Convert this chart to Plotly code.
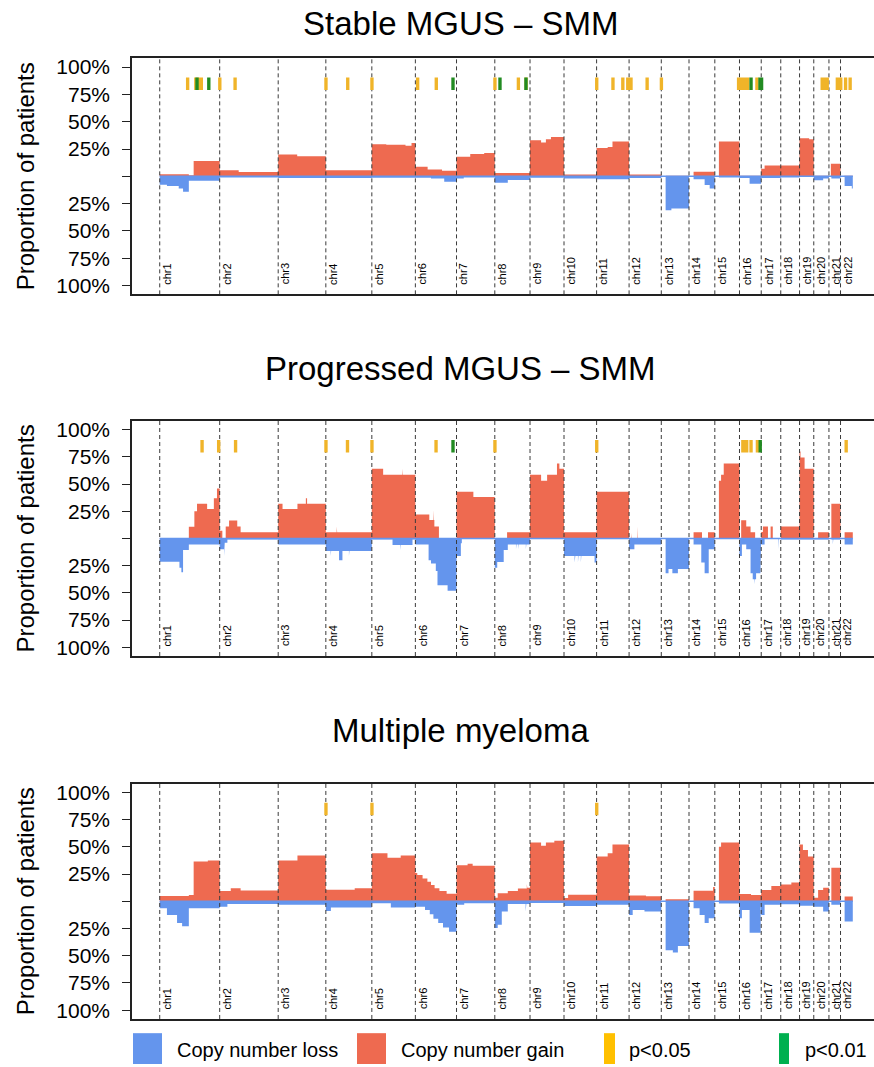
import plotly.graph_objects as go

# ---------------- data ----------------
CHROM_NAMES = ['chr1', 'chr2', 'chr3', 'chr4', 'chr5', 'chr6', 'chr7', 'chr8', 'chr9', 'chr10', 'chr11',
               'chr12', 'chr13', 'chr14', 'chr15', 'chr16', 'chr17', 'chr18', 'chr19', 'chr20', 'chr21', 'chr22']
CHROM_LEN_MB = [249.25, 243.20, 198.02, 191.15, 180.92, 171.12, 159.14, 146.36, 141.21, 135.53, 135.01,
                133.85, 115.17, 107.35, 102.53, 90.35, 81.20, 78.08, 59.13, 63.03, 48.13, 51.30]

PANEL_TITLES = ['Stable MGUS \u2013 SMM', 'Progressed MGUS \u2013 SMM', 'Multiple myeloma']
Y_TICK_VALS = [-1, -0.75, -0.5, -0.25, 0, 0.25, 0.5, 0.75, 1]
Y_TICK_TEXT = ['100%', '75%', '50%', '25%', '', '25%', '50%', '75%', '100%']
Y_TITLE = 'Proportion of patients'
LEGEND_LABELS = ['Copy number loss', 'Copy number gain', 'p<0.05', 'p<0.01']

# segments: (chromosome, start Mb, end Mb, proportion of patients)
stable_gain = [
    (1, 0, 121, 0.02), (1, 121, 141, 0.01), (1, 141, 249.25, 0.14),
    (2, 0, 79, 0.055), (2, 79, 243.2, 0.04),
    (3, 0, 79, 0.20), (3, 79, 198, 0.185),
    (4, 0, 191, 0.055),
    (5, 0, 60, 0.295), (5, 60, 140, 0.29), (5, 140, 165, 0.28), (5, 165, 180.9, 0.305),
    (6, 0, 51, 0.088), (6, 51, 111, 0.064), (6, 111, 171, 0.052),
    (7, 0, 57, 0.18), (7, 57, 115, 0.205), (7, 115, 159, 0.215),
    (8, 0, 146, 0.03),
    (9, 0, 46, 0.33), (9, 46, 66, 0.31), (9, 66, 87, 0.34), (9, 87, 141, 0.36),
    (10, 0, 135.5, 0.018),
    (11, 0, 46, 0.26), (11, 46, 66, 0.27), (11, 66, 135, 0.32),
    (12, 0, 133.8, 0.018),
    (13, 19, 115, 0.006),
    (14, 19, 107, 0.043),
    (15, 17, 102.5, 0.32),
    (16, 0, 90, 0.006),
    (17, 0, 14, 0.07), (17, 14, 81, 0.10),
    (18, 0, 78, 0.10),
    (19, 0, 40, 0.35), (19, 40, 59, 0.34),
    (20, 0, 63, 0.006),
    (21, 8, 48, 0.115),
    (22, 16, 51, 0.006),
]
stable_loss = [
    (1, 0, 30, 0.076), (1, 30, 79, 0.088), (1, 79, 97, 0.11), (1, 97, 121, 0.14), (1, 121, 249.25, 0.04),
    (2, 0, 243.2, 0.01),
    (3, 0, 198, 0.015),
    (4, 0, 191, 0.015),
    (5, 0, 180.9, 0.012),
    (6, 0, 65, 0.012), (6, 65, 120, 0.02), (6, 120, 171, 0.05),
    (7, 0, 30, 0.02), (7, 30, 159, 0.01),
    (8, 0, 54, 0.058), (8, 54, 146, 0.033),
    (9, 0, 141, 0.012),
    (10, 0, 135.5, 0.02),
    (11, 0, 135, 0.027),
    (12, 0, 133.8, 0.015),
    (13, 18, 42, 0.31), (13, 42, 115, 0.295),
    (14, 19, 65, 0.027), (14, 65, 86, 0.08), (14, 86, 107, 0.11),
    (15, 17, 102.5, 0.01),
    (16, 0, 42, 0.015), (16, 42, 90, 0.067),
    (17, 0, 81, 0.015),
    (18, 0, 78, 0.01),
    (19, 0, 59, 0.006),
    (20, 0, 39, 0.035), (20, 39, 63, 0.02),
    (21, 10, 48, 0.02),
    (22, 17, 47, 0.088), (22, 47, 51, 0.11),
]
progressed_gain = [
    (1, 0, 121, 0.005), (1, 121, 144, 0.107), (1, 144, 155, 0.25), (1, 155, 197, 0.32), (1, 197, 225, 0.27),
    (1, 225, 238, 0.37), (1, 238, 249.25, 0.46),
    (2, 0, 11, 0.07), (2, 25, 39, 0.11), (2, 39, 73, 0.165), (2, 73, 87, 0.11), (2, 87, 243.2, 0.058),
    (3, 0, 18, 0.32), (3, 18, 80, 0.27), (3, 80, 115, 0.32), (3, 115, 120, 0.37), (3, 120, 198, 0.32),
    (4, 0, 45, 0.058), (4, 45, 47, 0.11), (4, 47, 191, 0.058),
    (5, 0, 47, 0.64), (5, 47, 126, 0.585), (5, 126, 128, 0.64), (5, 128, 180.9, 0.585),
    (6, 0, 58, 0.22), (6, 58, 74, 0.17), (6, 74, 76, 0.26), (6, 76, 79, 0.17), (6, 79, 98, 0.11),
    (7, 0, 70, 0.43), (7, 70, 159, 0.38),
    (8, 51, 146, 0.058),
    (9, 0, 46, 0.585), (9, 46, 71, 0.53), (9, 71, 112, 0.585), (9, 112, 122, 0.69), (9, 122, 141, 0.64),
    (10, 0, 135.5, 0.058),
    (11, 0, 135, 0.43),
    (12, 8, 10, 0.05), (12, 35, 37, 0.11),
    (14, 19, 54, 0.058), (14, 79, 107, 0.058),
    (15, 17, 26, 0.53), (15, 26, 37, 0.585), (15, 37, 102.5, 0.69),
    (16, 7, 28, 0.167), (16, 28, 46, 0.11), (16, 46, 65, 0.058),
    (17, 0, 7, 0.06), (17, 7, 28, 0.11), (17, 39, 48, 0.11),
    (18, 0, 78, 0.11),
    (19, 0, 4, 0.80), (19, 4, 21, 0.745), (19, 21, 59, 0.64),
    (20, 18, 63, 0.058),
    (21, 10, 48, 0.32),
    (22, 17, 51, 0.058),
]
progressed_loss = [
    (1, 0, 82, 0.213), (1, 82, 90, 0.27), (1, 90, 97, 0.31), (1, 97, 121, 0.107), (1, 121, 249.25, 0.055),
    (2, 0, 18, 0.10), (2, 18, 21, 0.16), (2, 21, 32, 0.04), (2, 32, 243.2, 0.01),
    (3, 0, 198, 0.055),
    (4, 0, 20, 0.115), (4, 20, 22, 0.16), (4, 22, 55, 0.115), (4, 55, 69, 0.2), (4, 69, 96, 0.115),
    (4, 96, 98, 0.16), (4, 98, 191, 0.115),
    (5, 0, 86, 0.01), (5, 86, 119, 0.06), (5, 119, 121, 0.107), (5, 121, 169, 0.06), (5, 169, 180.9, 0.01),
    (6, 0, 55, 0.055), (6, 55, 65, 0.2), (6, 65, 85, 0.23), (6, 85, 92, 0.3), (6, 92, 134, 0.43), (6, 134, 171, 0.48),
    (7, 0, 18, 0.16), (7, 18, 22, 0.045), (7, 22, 159, 0.004),
    (8, 0, 10, 0.27), (8, 10, 37, 0.216), (8, 37, 54, 0.107), (8, 54, 88, 0.055), (8, 88, 90, 0.1),
    (8, 90, 97, 0.055), (8, 97, 99, 0.1), (8, 99, 129, 0.055), (8, 129, 131, 0.1), (8, 131, 146, 0.055),
    (9, 0, 141, 0.004),
    (10, 0, 44, 0.16), (10, 44, 47, 0.22), (10, 47, 58, 0.16), (10, 58, 60, 0.22), (10, 60, 70, 0.16),
    (10, 70, 72, 0.22), (10, 72, 127, 0.16), (10, 127, 135.5, 0.22),
    (11, 0, 135, 0.004),
    (12, 0, 22, 0.1), (12, 22, 133.8, 0.055),
    (13, 18, 30, 0.32), (13, 30, 46, 0.28), (13, 46, 69, 0.32), (13, 69, 115, 0.28),
    (14, 19, 51, 0.055), (14, 51, 65, 0.22), (14, 65, 82, 0.32), (14, 82, 107, 0.1),
    (15, 17, 102.5, 0.004),
    (16, 0, 10, 0.16), (16, 10, 28, 0.055), (16, 28, 46, 0.1), (16, 46, 55, 0.32), (16, 55, 62, 0.375),
    (16, 62, 64, 0.42), (16, 64, 69, 0.375), (16, 69, 87, 0.32), (16, 87, 90, 0.1),
    (17, 0, 14, 0.055), (17, 14, 72, 0.004), (17, 72, 74, 0.1), (17, 74, 81, 0.004),
    (18, 0, 78, 0.01),
    (19, 0, 59, 0.01),
    (20, 0, 63, 0.01),
    (21, 10, 16, 0.01), (21, 16, 18, 0.055), (21, 18, 48, 0.01),
    (22, 17, 51, 0.055),
]
mm_gain = [
    (1, 0, 121, 0.049), (1, 121, 141, 0.058), (1, 141, 200, 0.365), (1, 200, 249.25, 0.375),
    (2, 0, 46, 0.095), (2, 46, 87, 0.12), (2, 87, 243.2, 0.10),
    (3, 0, 80, 0.375), (3, 80, 198, 0.42),
    (4, 0, 120, 0.105), (4, 120, 191, 0.12),
    (5, 0, 65, 0.44), (5, 65, 120, 0.40), (5, 120, 180.9, 0.42),
    (6, 0, 8, 0.26), (6, 8, 30, 0.24), (6, 30, 50, 0.21), (6, 50, 65, 0.18), (6, 65, 80, 0.15),
    (6, 80, 100, 0.12), (6, 100, 130, 0.095), (6, 130, 171, 0.07),
    (7, 0, 46, 0.33), (7, 46, 67, 0.345), (7, 67, 159, 0.325),
    (8, 0, 12, 0.033), (8, 12, 54, 0.073), (8, 54, 96, 0.094), (8, 96, 133, 0.118), (8, 133, 135, 0.158),
    (8, 135, 146, 0.125),
    (9, 0, 46, 0.54), (9, 46, 66, 0.51), (9, 66, 101, 0.54), (9, 101, 141, 0.556),
    (10, 0, 17, 0.03), (10, 17, 135.5, 0.06),
    (11, 0, 46, 0.41), (11, 46, 66, 0.44), (11, 66, 135, 0.52),
    (12, 0, 70, 0.052), (12, 70, 133.8, 0.045),
    (13, 18, 115, 0.018),
    (14, 19, 100, 0.097), (14, 100, 107, 0.13),
    (15, 17, 26, 0.50), (15, 26, 102.5, 0.54),
    (16, 0, 48, 0.067), (16, 48, 90, 0.058),
    (17, 0, 42, 0.103), (17, 42, 81, 0.14),
    (18, 0, 44, 0.155), (18, 44, 78, 0.173),
    (19, 0, 14, 0.52), (19, 14, 35, 0.47), (19, 35, 59, 0.41),
    (20, 0, 18, 0.033), (20, 18, 39, 0.103), (20, 39, 63, 0.125),
    (21, 10, 48, 0.307),
    (22, 17, 51, 0.043),
]
mm_loss = [
    (1, 0, 30, 0.064), (1, 30, 72, 0.125), (1, 72, 93, 0.2), (1, 93, 121, 0.23), (1, 121, 249.25, 0.064),
    (2, 0, 32, 0.05), (2, 32, 243.2, 0.025),
    (3, 0, 198, 0.033),
    (4, 0, 21, 0.09), (4, 21, 191, 0.058),
    (5, 0, 79, 0.018), (5, 79, 180.9, 0.058),
    (6, 0, 40, 0.05), (6, 40, 60, 0.08), (6, 60, 75, 0.12), (6, 75, 95, 0.16), (6, 95, 115, 0.2),
    (6, 115, 140, 0.24), (6, 140, 171, 0.28),
    (7, 0, 32, 0.033), (7, 32, 159, 0.018),
    (8, 0, 12, 0.246), (8, 12, 29, 0.216), (8, 29, 54, 0.094), (8, 54, 128, 0.024), (8, 128, 131, 0.094),
    (8, 131, 146, 0.024),
    (9, 0, 141, 0.015),
    (10, 0, 135.5, 0.043),
    (11, 0, 135, 0.033),
    (12, 0, 15, 0.125), (12, 15, 64, 0.08), (12, 64, 133.8, 0.094),
    (13, 18, 48, 0.45), (13, 48, 69, 0.47), (13, 69, 115, 0.41),
    (14, 19, 44, 0.064), (14, 44, 65, 0.125), (14, 65, 82, 0.2), (14, 82, 107, 0.155),
    (15, 17, 102.5, 0.02),
    (16, 0, 10, 0.155), (16, 10, 42, 0.08), (16, 42, 88, 0.29),
    (17, 0, 14, 0.125), (17, 14, 81, 0.033),
    (18, 0, 78, 0.027),
    (19, 0, 59, 0.04),
    (20, 0, 39, 0.05), (20, 39, 63, 0.094),
    (21, 10, 48, 0.033),
    (22, 17, 51, 0.185),
]

# significant regions: (chromosome, start Mb, end Mb)
stable_p05 = [
    (1, 114, 118), (1, 143, 180), (2, 0, 1), (2, 62, 66), (4, 0, 1), (4, 89, 93), (5, 0, 1), (6, 8, 11),
    (6, 85, 89), (8, 0, 1), (8, 96, 100), (8, 123, 137), (11, 0, 1), (11, 66, 70), (11, 103, 115),
    (11, 124, 135), (12, 3, 13), (12, 73, 77), (13, 0, 1), (15, 95, 102.5), (16, 0, 41), (16, 69, 76),
    (20, 28, 63), (21, 28, 48.13), (22, 0, 2), (22, 20, 22), (22, 39, 41),
]
stable_p01 = [(1, 153, 157), (1, 202, 206), (6, 155, 158), (8, 20, 23), (8, 128, 131), (16, 46, 50),
              (16, 80, 90.35), (17, 0, 3)]
progressed_p05 = [
    (1, 174, 178), (1, 243, 247), (2, 64, 68), (4, 0, 1), (4, 88, 92), (5, 0, 1), (6, 84, 88), (8, 0, 1),
    (11, 0, 1), (16, 7, 37), (16, 45, 51), (16, 71, 78), (22, 22, 25),
]
progressed_p01 = [(6, 155, 158), (16, 82, 90.35)]
mm_p05 = [(4, 0, 1), (5, 0, 1), (11, 0, 1)]
mm_p01 = []

PANELS = [
    (stable_gain, stable_loss, stable_p05, stable_p01),
    (progressed_gain, progressed_loss, progressed_p05, progressed_p01),
    (mm_gain, mm_loss, mm_p05, mm_p01),
]

# ---------------- styling ----------------
GAIN_COLOR = '#EE6A50'
LOSS_COLOR = '#6495ED'
P05_COLOR = '#F0B429'
P01_COLOR = '#228B22'
LEG_P05_COLOR = '#FFC000'
LEG_P01_COLOR = '#00B050'
FONT = 'Liberation Sans, Arial, Helvetica, sans-serif'
W, H = 874, 1067
MARGIN_L = 132
PLOT_W = W - MARGIN_L
# panel frames (pixels from top)
PANEL_PX = [(55.7, 293.0), (420.3, 656.7), (785.0, 1021.7)]
TITLE_PX = [21, 368, 732]
Y_LIM = 1.08
MARK_Y0, MARK_Y1 = 0.79, 0.905
MIN_MARK_W = 14.0

OFFSETS = []
acc = 0.0
for L in CHROM_LEN_MB:
    OFFSETS.append(acc)
    acc += L
TOTAL = acc
X_LEFT = -0.04 * TOTAL
X_RIGHT = 1.0305 * TOTAL


def gpos(ch, mb):
    return OFFSETS[ch - 1] + mb


def step_xy(segs, sign):
    segs = sorted(segs, key=lambda t: gpos(t[0], t[1]))
    xs, ys = [], []
    prev_end = None
    for ch, s, e, v in segs:
        gs, ge = gpos(ch, s), gpos(ch, e)
        if prev_end is None or abs(gs - prev_end) > 1e-6:
            if prev_end is not None:
                xs.append(prev_end); ys.append(0)
            xs.append(gs); ys.append(0)
        xs += [gs, ge]
        ys += [sign * v, sign * v]
        prev_end = ge
    if prev_end is not None:
        xs.append(prev_end); ys.append(0)
    return xs, ys


def mark_xy(marks):
    xs, ys = [], []
    for c, s, e in marks:
        mid = (gpos(c, s) + gpos(c, e)) / 2
        half = max(e - s, MIN_MARK_W) / 2
        xs += [mid - half, mid + half, mid + half, mid - half, mid - half, None]
        ys += [MARK_Y0, MARK_Y0, MARK_Y1, MARK_Y1, MARK_Y0, None]
    return xs, ys


def px_to_paper_y(py):
    return 1 - py / H


def px_to_paper_x(px):
    return (px - MARGIN_L) / PLOT_W


fig = go.Figure()
shapes = []
annotations = []
layout_axes = {}

for i, (gain, loss, p05, p01) in enumerate(PANELS):
    n = i + 1
    xa = 'x' if n == 1 else f'x{n}'
    ya = 'y' if n == 1 else f'y{n}'
    gx, gy = step_xy(gain, 1)
    lx, ly = step_xy(loss, -1)
    fig.add_trace(go.Scatter(x=gx, y=gy, mode='lines', fill='tozeroy', fillcolor=GAIN_COLOR,
                             line=dict(width=0, color=GAIN_COLOR), xaxis=xa, yaxis=ya,
                             showlegend=False, hoverinfo='skip'))
    fig.add_trace(go.Scatter(x=lx, y=ly, mode='lines', fill='tozeroy', fillcolor=LOSS_COLOR,
                             line=dict(width=0, color=LOSS_COLOR), xaxis=xa, yaxis=ya,
                             showlegend=False, hoverinfo='skip'))
    fig.add_trace(go.Scatter(x=[0, TOTAL], y=[0, 0], mode='lines',
                             line=dict(width=1.5, color=LOSS_COLOR), xaxis=xa, yaxis=ya,
                             showlegend=False, hoverinfo='skip'))
    # chromosome boundary lines (dashed), drawn over the profiles
    vx, vy = [], []
    for off in OFFSETS:
        vx += [off, off, None]
        vy += [-Y_LIM, Y_LIM, None]
    fig.add_trace(go.Scatter(x=vx, y=vy, mode='lines', line=dict(color='#3a3a3a', width=1, dash='4px,3px'),
                             xaxis=xa, yaxis=ya, showlegend=False, hoverinfo='skip', connectgaps=False))
    # significance marks, drawn over the boundary lines
    for marks, col in ((p05, P05_COLOR), (p01, P01_COLOR)):
        if not marks:
            continue
        mx, my = mark_xy(marks)
        fig.add_trace(go.Scatter(x=mx, y=my, mode='lines', fill='toself', fillcolor=col,
                                 line=dict(width=0, color=col), xaxis=xa, yaxis=ya,
                                 showlegend=False, hoverinfo='skip', connectgaps=False))

    top, bot = PANEL_PX[i]
    dom = [px_to_paper_y(bot), px_to_paper_y(top)]
    layout_axes['xaxis' if n == 1 else f'xaxis{n}'] = dict(
        domain=[0, 1], range=[X_LEFT, X_RIGHT], showticklabels=False, ticks='', showgrid=False,
        zeroline=False, showline=True, mirror=True, linecolor='#222', linewidth=1.5,
        anchor=ya, fixedrange=True)
    layout_axes['yaxis' if n == 1 else f'yaxis{n}'] = dict(
        domain=dom, range=[-Y_LIM, Y_LIM], tickvals=Y_TICK_VALS, ticktext=Y_TICK_TEXT,
        ticks='outside', ticklen=8, tickwidth=1, tickcolor='#222', showline=True,
        linecolor='#222', linewidth=1.5, showgrid=False, zeroline=False, anchor=xa,
        tickfont=dict(family=FONT, size=21, color='black'), ticklabelstandoff=8, fixedrange=True)

    for name, off in zip(CHROM_NAMES, OFFSETS):
        annotations.append(dict(xref=xa, yref=ya, x=off, y=-1.0, text=name, textangle=-90,
                                xanchor='left', yanchor='bottom', showarrow=False,
                                font=dict(family=FONT, size=11, color='black'), borderpad=0))
    annotations.append(dict(xref='paper', yref='paper', x=px_to_paper_x(460),
                            y=px_to_paper_y(TITLE_PX[i]), text=PANEL_TITLES[i], showarrow=False,
                            xanchor='center', yanchor='middle',
                            font=dict(family=FONT, size=33, color='black')))
    annotations.append(dict(xref='paper', yref=ya, x=px_to_paper_x(25), y=0, text=Y_TITLE,
                            textangle=-90, showarrow=False, xanchor='center', yanchor='middle',
                            font=dict(family=FONT, size=24, color='black')))

# custom legend
LEG_ITEMS = [
    (LEGEND_LABELS[0], LOSS_COLOR, 133, 162, 175),
    (LEGEND_LABELS[1], GAIN_COLOR, 357, 386, 399),
    (LEGEND_LABELS[2], LEG_P05_COLOR, 604, 615, 627),
    (LEGEND_LABELS[3], LEG_P01_COLOR, 779, 789, 803),
]
for label, col, x0, x1, tx in LEG_ITEMS:
    shapes.append(dict(type='rect', xref='paper', yref='paper', x0=px_to_paper_x(x0), x1=px_to_paper_x(x1),
                       y0=px_to_paper_y(1067), y1=px_to_paper_y(1036), fillcolor=col,
                       line=dict(width=0)))
    annotations.append(dict(xref='paper', yref='paper', x=px_to_paper_x(tx), y=px_to_paper_y(1053),
                            text=label, showarrow=False, xanchor='left', yanchor='middle',
                            font=dict(family=FONT, size=20, color='black')))

fig.update_layout(
    width=W, height=H, margin=dict(l=MARGIN_L, r=0, t=0, b=0),
    plot_bgcolor='white', paper_bgcolor='white',
    showlegend=False, shapes=shapes, annotations=annotations, **layout_axes)

fig.write_html('out.html')
